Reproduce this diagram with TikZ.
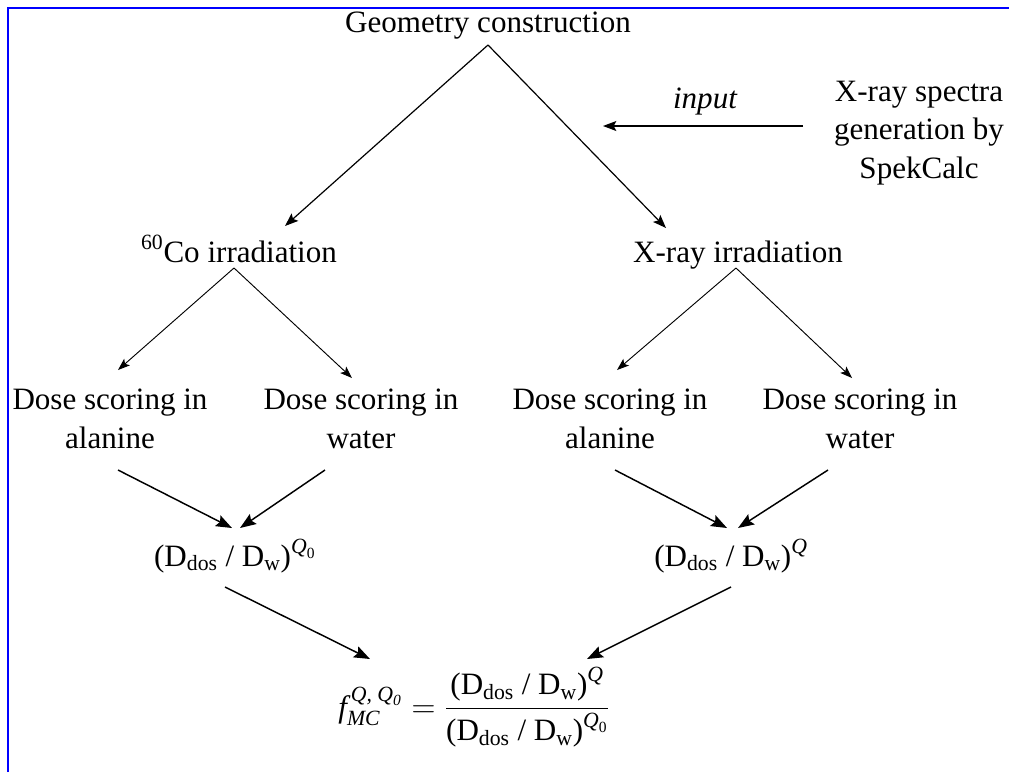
\documentclass[tikz,border=0pt]{standalone}
\usepackage{amsmath}
\usepackage{fontspec}
\setmainfont{Liberation Serif}
\usetikzlibrary{positioning,arrows.meta,calc}
\tikzset{
  % --- text blocks ------------------------------------------------------------
  lbl/.style={inner sep=2pt,align=center,font=\fontsize{23.3}{29}\selectfont},
  % --- arrows -----------------------------------------------------------------
  flow/.style={-{Stealth[length=12pt,width=9pt,inset=2pt]},line width=1.1pt},
  feed/.style={-{Stealth[length=10pt,width=7.5pt,inset=2pt]},line width=0.9pt},
  split/.style={-{Stealth[length=9pt,width=6.5pt,inset=2pt]},line width=0.7pt},
  frame/.style={blue,line width=2pt},
}
\newcommand{\Dratio}{(D\textsubscript{dos} / D\textsubscript{w})}

\begin{document}
\begin{tikzpicture}[x=0.75pt,y=-0.75pt]
  \useasboundingbox (0,0) rectangle (1009,772);
  \draw[frame] (8,772) -- (8,8) -- (1009,8);

  % ---- geometry and the spectra input ----
  \node[lbl,anchor=base] (geo)  at (488,32)  {Geometry construction};
  \node[lbl]             (spek) at (919,133) {X-ray spectra\\generation by\\SpekCalc};
  \node[lbl,anchor=base,font=\fontsize{23.3}{29}\selectfont\itshape] (inp) at (705,108) {input};
  \coordinate (tip) at (603,126);
  % ---- the two sources ----
  \node[lbl,anchor=base] (co) at (239,262) {\textsuperscript{60}Co irradiation};
  \node[lbl,anchor=base] (xr) at (738,262) {X-ray irradiation};
  % ---- dose scoring ----
  \node[lbl] (dal1) at (110,419) {Dose scoring in\\alanine};
  \node[lbl] (dw1)  at (361,419) {Dose scoring in\\water};
  \node[lbl] (dal2) at (610,419) {Dose scoring in\\alanine};
  \node[lbl] (dw2)  at (860,419) {Dose scoring in\\water};
  % ---- ratios and the correction factor ----
  \node[lbl,anchor=base] (rco) at (235,566) {\Dratio$^{\textit{Q}_{\text{0}}}$};
  \node[lbl,anchor=base] (rxr) at (731,566) {\Dratio$^{\textit{Q}}$};
  \node[lbl,anchor=base] (fmc) at (474,717)
    {$\textit{f}_{\textit{MC}}^{\,\textit{Q, Q}_{\textit{0}}}
      =\dfrac{\text{\Dratio}^{\textit{Q}}}{\text{\Dratio}^{\textit{Q}_{\text{0}}}}$};

  \draw[feed] ($(geo.base)+(0,13)$) -- ($(co.base)+(46,-36)$);
  \draw[feed] ($(geo.base)+(0,13)$) -- ($(xr.base)+(-72,-34)$);
  \draw[feed] ($(spek.center)+(-116,-7)$) -- (tip);

  \draw[split] ($(co.base)+(-5,6)$) -- ($(dal1.center)+(8,-49)$);
  \draw[split] ($(co.base)+(-5,6)$) -- ($(dw1.center)+(-9,-41)$);
  \draw[split] ($(xr.base)+(-2,6)$) -- ($(dal2.center)+(7,-49)$);
  \draw[split] ($(xr.base)+(-2,6)$) -- ($(dw2.center)+(-8,-41)$);

  \draw[flow] ($(dal1.center)+(8,51)$)   -- ($(rco.base)+(-3,-38)$);
  \draw[flow] ($(dw1.center)+(-36,51)$)  -- ($(rco.base)+(5,-38)$);
  \draw[flow] ($(dal2.center)+(5,51)$)   -- ($(rxr.base)+(-4,-38)$);
  \draw[flow] ($(dw2.center)+(-32,51)$)  -- ($(rxr.base)+(7,-38)$);

  \draw[flow] ($(rco.base)+(-10,21)$) -- ($(fmc.base)+(-104,-58)$);
  \draw[flow] ($(rxr.base)+(0,21)$)   -- ($(fmc.base)+(113,-58)$);
\end{tikzpicture}
\end{document}
